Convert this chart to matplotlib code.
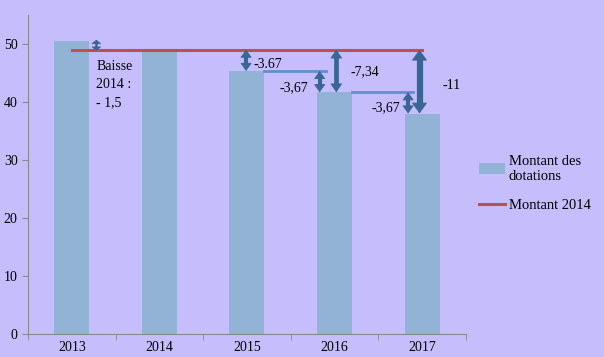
import matplotlib
matplotlib.use("Agg")
import matplotlib.pyplot as plt
import numpy as np

years = ["2013", "2014", "2015", "2016", "2017"]
dotations = [50.5, 49.0, 45.33, 41.66, 38.0]
montant_2014 = [49.0, 49.0, 49.0, 49.0, 49.0]

BG = "#C6BEFC"
BAR = "#93B3D6"
RED = "#C0504D"
ARROW = "#3B6596"
STEP = "#5F8FD2"

plt.rcParams["font.family"] = ["Liberation Serif", "DejaVu Serif"]

DPI = 100
fig = plt.figure(figsize=(6.04, 3.57), dpi=DPI, facecolor=BG)
ax = fig.add_axes([0.0464, 0.0644, 0.725, 0.894])
ax.set_facecolor(BG)

x = np.arange(len(years))
bars = ax.bar(x, dotations, width=0.4, color=BAR, zorder=2)
line, = ax.plot(x, montant_2014, color=RED, lw=2.2, zorder=4)

YMAX = 55
ax.set_xlim(-0.5, len(years) - 0.5)
ax.set_ylim(0, YMAX)
ax.set_yticks(range(0, 51, 10))
ax.set_xticks(x)
ax.set_xticklabels(years, fontsize=10)
ax.set_xticks(np.arange(-0.5, len(years), 1), minor=True)
ax.tick_params(axis="x", which="major", length=0, pad=5)
ax.tick_params(axis="x", which="minor", length=4, color="#888888")
ax.tick_params(axis="y", length=4, color="#888888", labelsize=10)
for s in ("top", "right"):
    ax.spines[s].set_visible(False)
for s in ("left", "bottom"):
    ax.spines[s].set_color("#888888")

# data units per point, vertically
data_per_pt = YMAX / (0.894 * 3.57 * 72)


def darrow(xpos, y_top, y_bot, shaft=3.0, hl=5.0, hw=3.6):
    """Double arrow: thick shaft + two filled heads (sizes in points)."""
    h = hl * data_per_pt
    ax.plot([xpos, xpos], [y_top - h * 0.8, y_bot + h * 0.8], color=ARROW,
            lw=shaft, solid_capstyle="butt", zorder=5)
    style = f"-|>,head_length={hl / 10},head_width={hw / 10}"
    for tip, base in ((y_top, y_top - h), (y_bot, y_bot + h)):
        ax.annotate("", xy=(xpos, tip), xytext=(xpos, base),
                    arrowprops=dict(arrowstyle=style, color=ARROW, lw=0.6,
                                    mutation_scale=10, shrinkA=0, shrinkB=0),
                    zorder=6)


ref = montant_2014[0]
# step lines at previous year's level
ax.plot([2.2, 2.9], [dotations[2], dotations[2]], color=STEP, lw=2, zorder=3)
ax.plot([3.2, 3.9], [dotations[3], dotations[3]], color=STEP, lw=2, zorder=3)

darrow(0.28, dotations[0] + 0.2, ref - 0.2, shaft=1.8, hl=2.4, hw=3.0)
darrow(1.99, ref, dotations[2])
darrow(2.83, dotations[2], dotations[3])
darrow(3.02, ref, dotations[3], shaft=3.4, hl=5.5, hw=3.8)
darrow(3.84, dotations[3], dotations[4])
darrow(3.97, ref, dotations[4], shaft=4.5, hl=7.0, hw=5.0)

fs = 10
ax.text(0.28, 47.2, "Baisse\n2014 :\n- 1,5", fontsize=fs, va="top", ha="left",
        linespacing=1.5)
ax.text(2.07, 46.5, "-3.67", fontsize=fs, va="center", ha="left")
ax.text(2.70, 42.4, "-3,67", fontsize=fs, va="center", ha="right")
ax.text(3.18, 45.2, "-7,34", fontsize=fs, va="center", ha="left")
ax.text(3.75, 39.0, "-3,67", fontsize=fs, va="center", ha="right")
ax.text(4.23, 42.9, "-11", fontsize=fs, va="center", ha="left")

fig.legend([bars, line], ["Montant des\ndotations", "Montant 2014"],
           loc="center left", bbox_to_anchor=(0.793, 0.487), frameon=False,
           fontsize=10.5, handlelength=1.8, labelspacing=1.1,
           handletextpad=0.25, borderaxespad=0, borderpad=0)

fig.savefig("out.png", dpi=DPI, facecolor=BG)
